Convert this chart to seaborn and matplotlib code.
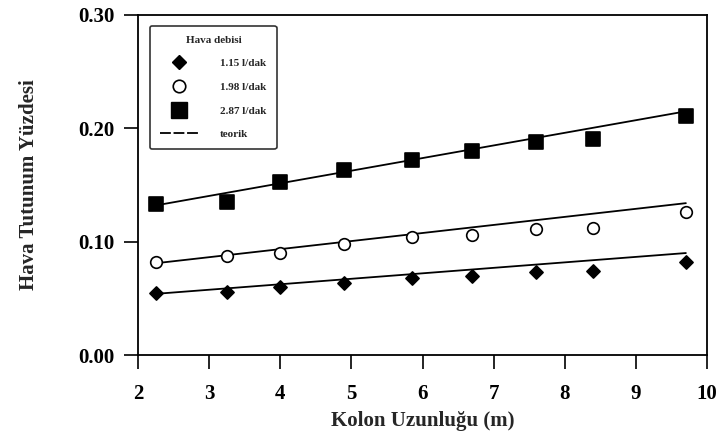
import numpy as np
import pandas as pd
import matplotlib
matplotlib.use("Agg")
import matplotlib.pyplot as plt
import seaborn as sns
from matplotlib.lines import Line2D

# measured data
kolon = [2.25, 3.25, 4.0, 4.9, 5.85, 6.7, 7.6, 8.4, 9.7]
debi_115 = [0.055, 0.056, 0.060, 0.064, 0.068, 0.070, 0.073, 0.074, 0.082]
debi_198 = [0.082, 0.087, 0.090, 0.098, 0.104, 0.106, 0.111, 0.112, 0.126]
debi_287 = [0.133, 0.135, 0.153, 0.163, 0.172, 0.180, 0.188, 0.191, 0.211]

# theoretical lines (end points)
teorik_x = [2.25, 9.7]
teorik_115 = [0.054, 0.090]
teorik_198 = [0.081, 0.134]
teorik_287 = [0.132, 0.215]

labels = ["1.15 l/dak", "1.98 l/dak", "2.87 l/dak"]

sns.set_style("ticks")
plt.rcParams['font.family'] = ['Liberation Serif', 'DejaVu Serif']
plt.rcParams['font.weight'] = 'bold'

fig = plt.figure(figsize=(7.18, 4.4), dpi=100)
ax = fig.add_axes([0.192, 0.193, 0.793, 0.773])

meas = pd.DataFrame({
    'x': kolon * 3,
    'y': debi_115 + debi_198 + debi_287,
    'seri': sum([[l] * len(kolon) for l in labels], []),
})
teo = pd.DataFrame({
    'x': teorik_x * 3,
    'y': teorik_115 + teorik_198 + teorik_287,
    'seri': sum([[l] * 2 for l in labels], []),
})

for lab in labels:
    sns.lineplot(data=teo[teo.seri == lab], x='x', y='y', color='black',
                 linewidth=1.3, ax=ax, legend=False)

styles = {
    labels[0]: dict(marker='D', s=45, facecolor='black', edgecolor='black'),
    labels[1]: dict(marker='o', s=70, facecolor='white', edgecolor='black'),
    labels[2]: dict(marker='s', s=110, facecolor='black', edgecolor='black'),
}
for lab in labels:
    st = styles[lab]
    sns.scatterplot(data=meas[meas.seri == lab], x='x', y='y', marker=st['marker'],
                    s=st['s'], color=st['facecolor'], edgecolor=st['edgecolor'],
                    linewidth=1.2, ax=ax, legend=False, zorder=3)

ax.set_xlim(2, 10)
ax.set_ylim(0, 0.30)
ax.set_xticks(range(2, 11))
ax.set_yticks([0.0, 0.1, 0.2, 0.3])
ax.set_yticklabels(['0.00', '0.10', '0.20', '0.30'])
ax.tick_params(axis='both', labelsize=15, direction='out', length=10, width=1.2, colors='black')
ax.tick_params(axis='y', pad=7)
ax.tick_params(axis='x', pad=11)
for t in ax.get_xticklabels() + ax.get_yticklabels():
    t.set_fontweight('bold')
for sp in ax.spines.values():
    sp.set_visible(True)
    sp.set_linewidth(1.3)
    sp.set_color('black')

ax.set_xlabel('Kolon Uzunluğu (m)', fontsize=15, fontweight='bold', labelpad=5)
ax.set_ylabel('Hava Tutunum Yüzdesi', fontsize=15, fontweight='bold', labelpad=28)

handles = [
    Line2D([], [], marker='D', color='black', linestyle='none', markersize=7),
    Line2D([], [], marker='o', markerfacecolor='white', markeredgecolor='black',
           linestyle='none', markersize=9, markeredgewidth=1.2),
    Line2D([], [], marker='s', color='black', linestyle='none', markersize=11),
    Line2D([], [], color='black', linewidth=1.3, linestyle=(0, (6, 1.5))),
]
leg = ax.legend(handles, labels + ['teorik'], title='Hava debisi', loc='upper left',
                bbox_to_anchor=(0.012, 0.985), fontsize=8, title_fontsize=8,
                frameon=True, fancybox=True, edgecolor='black', handlelength=3.4,
                labelspacing=1.25, borderpad=0.9, handletextpad=2.0)
leg.get_frame().set_linewidth(1.2)
leg.get_title().set_fontweight('bold')
for t in leg.get_texts():
    t.set_fontweight('bold')

fig.savefig('out.png', dpi=100)
